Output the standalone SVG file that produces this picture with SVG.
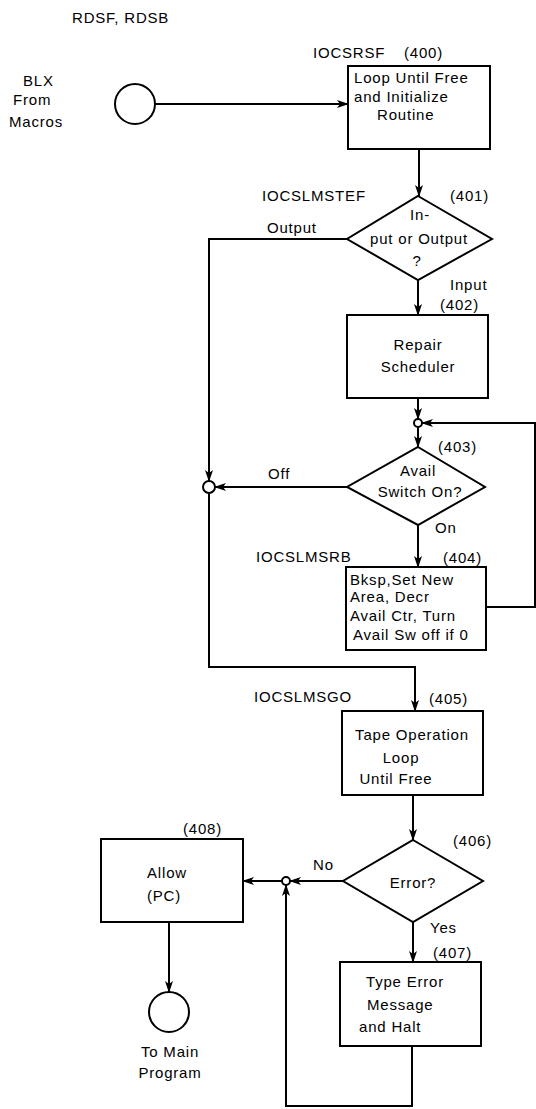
<svg xmlns="http://www.w3.org/2000/svg" width="536" height="1109" viewBox="0 0 536 1109">
<style>
text{font-family:"Liberation Sans",Arial,sans-serif;font-size:15px;fill:#000;letter-spacing:0.8px}
.m{text-anchor:middle}
.shape{fill:none;stroke:#000;stroke-width:2}
.conn{fill:none;stroke:#000;stroke-width:2;marker-end:url(#ah)}
</style>
<defs>
<marker id="ah" markerUnits="userSpaceOnUse" markerWidth="12" markerHeight="8" refX="11" refY="4" orient="auto">
<path d="M0,0 L12,4 L0,8 L3,4 z" fill="#000"/>
</marker>
</defs>
<rect width="536" height="1109" fill="#fff"/>
<text x="72" y="23">RDSF, RDSB</text>
<g id="start">
<circle class="shape" cx="135" cy="104" r="20"/>
<text x="23" y="86">BLX</text>
<text x="13" y="105">From</text>
<text x="9" y="127">Macros</text>
</g>
<g id="n400">
<rect class="shape" x="348" y="66" width="142" height="83"/>
<text x="313" y="58">IOCSRSF</text>
<text x="404" y="58">(400)</text>
<text x="354" y="83">Loop Until Free</text>
<text x="354" y="102">and Initialize</text>
<text x="377" y="120">Routine</text>
</g>
<g id="n401">
<polygon class="shape" points="418,196 492,239 418,280 347,239"/>
<text x="262" y="201">IOCSLMSTEF</text>
<text x="450" y="201">(401)</text>
<text class="m" x="420" y="220">In-</text>
<text class="m" x="419" y="244">put or Output</text>
<text class="m" x="417" y="266">?</text>
</g>
<g id="n402">
<rect class="shape" x="347" y="315" width="141" height="83"/>
<text x="440" y="310">(402)</text>
<text class="m" x="418" y="350">Repair</text>
<text class="m" x="418" y="372">Scheduler</text>
</g>
<g id="j1"><circle class="shape" cx="418" cy="423" r="4"/></g>
<g id="n403">
<polygon class="shape" points="418,447 485,487 418,525 347,487"/>
<text x="438" y="452">(403)</text>
<text class="m" x="418" y="476">Avail</text>
<text class="m" x="420" y="497">Switch On?</text>
</g>
<g id="j2"><circle class="shape" cx="209" cy="487" r="6"/></g>
<g id="n404">
<rect class="shape" x="346" y="567" width="140" height="83"/>
<text x="256" y="562">IOCSLMSRB</text>
<text x="443" y="563">(404)</text>
<text x="350" y="585">Bksp,Set New</text>
<text x="350" y="602">Area, Decr</text>
<text x="350" y="621">Avail Ctr, Turn</text>
<text x="353" y="640">Avail Sw off if 0</text>
</g>
<g id="n405">
<rect class="shape" x="342" y="711" width="141" height="84"/>
<text x="254" y="702">IOCSLMSGO</text>
<text x="429" y="704">(405)</text>
<text class="m" x="412" y="740">Tape Operation</text>
<text class="m" x="401" y="763">Loop</text>
<text class="m" x="396" y="784">Until Free</text>
</g>
<g id="n406">
<polygon class="shape" points="413,840 483,881 413,922 343,881"/>
<text x="453" y="846">(406)</text>
<text class="m" x="413" y="888">Error?</text>
</g>
<g id="j3"><circle class="shape" cx="286" cy="881" r="4"/></g>
<g id="n407">
<rect class="shape" x="340" y="962" width="141" height="84"/>
<text x="433" y="958">(407)</text>
<text x="366" y="987">Type Error</text>
<text x="367" y="1010">Message</text>
<text x="359" y="1032">and Halt</text>
</g>
<g id="n408">
<rect class="shape" x="101" y="839" width="142" height="83"/>
<text x="183" y="834">(408)</text>
<text class="m" x="167" y="878">Allow</text>
<text class="m" x="164" y="901">(PC)</text>
</g>
<g id="end">
<circle class="shape" cx="169" cy="1012" r="20"/>
<text class="m" x="170" y="1057">To Main</text>
<text class="m" x="170" y="1078">Program</text>
</g>
<g id="connectors">
<path class="conn" d="M155,104 H348"/>
<path class="conn" d="M419,149 V196"/>
<path class="conn" d="M347,239 H209 V481"/>
<path class="conn" d="M418,280 V315"/>
<path class="conn" d="M418,398 V419"/>
<path class="conn" d="M418,427 V447"/>
<path class="conn" d="M347,487 H215"/>
<path class="conn" d="M209,493 V667 H415 V711"/>
<path class="conn" d="M418,525 V567"/>
<path class="conn" d="M486,607 H535 V423 H422"/>
<path class="conn" d="M413,795 V840"/>
<path class="conn" d="M343,881 H290"/>
<path class="conn" d="M282,881 H243"/>
<path class="conn" d="M413,922 V962"/>
<path class="conn" d="M412,1046 V1106 H286 V885"/>
<path class="conn" d="M169,922 V992"/>
<text x="267" y="233">Output</text>
<text x="450" y="290">Input</text>
<text x="268" y="479">Off</text>
<text x="435" y="533">On</text>
<text x="313" y="870">No</text>
<text x="430" y="933">Yes</text>
</g>
</svg>
